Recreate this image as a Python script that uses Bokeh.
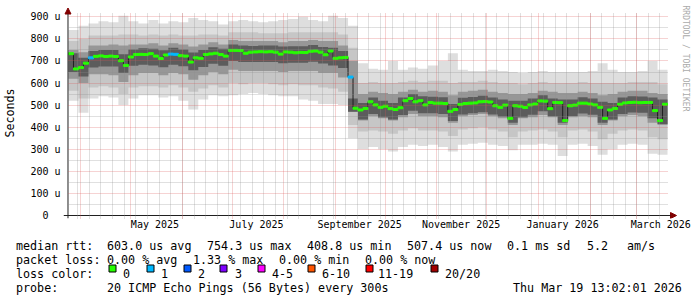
import numpy as np
import pandas as pd
from bokeh.plotting import figure
from bokeh.layouts import column
from bokeh.models import Range1d, FixedTicker, Arrow, NormalHead, Title, ColumnDataSource
from bokeh.core.properties import value
from bokeh.embed import file_html
from bokeh.resources import INLINE

# ---------------- data ----------------
END_TIME = "2026-03-19 13:02:01"
SPAN_DAYS = 360
MEDIAN_STEP_DAYS = 3
SMOKE_STEP_DAYS = 6

# median RTT (microseconds), one value per 3-day step
median_us = [733, 664, 670, 690, 714, 721, 723, 720, 722, 720,
             701, 680, 718, 729, 730, 729, 733, 722, 711, 727,
             731, 730, 724, 722, 695, 714, 712, 729, 732, 735,
             729, 722, 748, 748, 747, 735, 740, 741, 742, 741,
             742, 740, 731, 741, 740, 737, 739, 738, 744, 745,
             740, 728, 745, 712, 714, 716, 627, 486, 478, 485,
             515, 501, 490, 495, 484, 480, 488, 520, 530, 515,
             520, 501, 512, 509, 509, 507, 472, 480, 503, 507,
             509, 510, 515, 516, 514, 497, 490, 500, 440, 497,
             495, 489, 501, 505, 519, 518, 484, 512, 511, 430,
             497, 500, 509, 509, 505, 501, 490, 440, 478, 485,
             504, 510, 512, 513, 511, 512, 512, 475, 430, 504]

# lost pings (of 20) per 3-day step
loss_pings = [0, 0, 0, 0, 1, 0, 0, 0, 0, 0,
              0, 0, 0, 0, 0, 0, 0, 0, 0, 0,
              1, 1, 0, 0, 0, 0, 0, 0, 0, 0,
              0, 0, 0, 0, 0, 0, 0, 0, 0, 0,
              0, 0, 0, 0, 0, 0, 0, 0, 0, 0,
              0, 0, 0, 0, 0, 0, 1, 0, 0, 0,
              0, 0, 0, 0, 0, 0, 0, 0, 0, 0,
              0, 0, 0, 0, 0, 0, 0, 0, 0, 0,
              0, 0, 0, 0, 0, 0, 0, 0, 0, 0,
              0, 0, 0, 0, 0, 0, 0, 0, 0, 0,
              0, 0, 0, 0, 0, 0, 0, 0, 0, 0,
              0, 0, 0, 0, 0, 0, 0, 0, 0, 0]

# smoke (spread of the 20 pings, microseconds), one value per 6-day step
smoke_max = [840, 860, 870, 880, 875, 905, 880, 870, 885, 870,
             880, 875, 895, 885, 880, 865, 880, 885, 880, 875,
             880, 885, 890, 900, 885, 880, 905, 895, 860, 690,
             665, 660, 700, 660, 670, 665, 680, 700, 735, 660,
             655, 655, 660, 655, 650, 645, 650, 655, 650, 650,
             650, 650, 655, 690, 660, 650, 650, 655, 700, 660]
smoke_hi_mid = [790, 800, 815, 815, 815, 820, 820, 815, 820, 815,
                820, 815, 815, 820, 820, 815, 830, 830, 830, 825,
                825, 825, 830, 830, 830, 830, 830, 820, 760, 600,
                605, 600, 600, 605, 610, 605, 610, 610, 600, 605,
                605, 610, 605, 600, 600, 595, 600, 605, 600, 600,
                600, 605, 600, 600, 600, 600, 605, 605, 605, 595]
smoke_hi_in = [750, 740, 770, 770, 775, 770, 775, 775, 780, 770,
               780, 775, 765, 775, 785, 775, 795, 790, 790, 790,
               790, 785, 790, 790, 795, 790, 790, 770, 700, 550,
               560, 555, 550, 560, 570, 560, 565, 560, 545, 560,
               565, 570, 560, 555, 550, 550, 555, 565, 560, 555,
               555, 560, 555, 545, 550, 560, 565, 565, 555, 550]
smoke_hi_core = [735, 715, 745, 750, 750, 730, 752, 758, 755, 748,
                 760, 752, 738, 750, 762, 755, 775, 770, 768, 770,
                 770, 765, 767, 767, 772, 763, 760, 745, 530, 510,
                 535, 520, 510, 535, 550, 540, 538, 536, 505, 533,
                 537, 542, 535, 525, 520, 520, 530, 545, 530, 525,
                 526, 536, 530, 515, 510, 535, 540, 539, 535, 525]
smoke_lo_core = [650, 630, 670, 675, 675, 645, 678, 683, 680, 672,
                 683, 676, 658, 673, 687, 678, 700, 695, 695, 695,
                 695, 690, 692, 692, 697, 688, 680, 668, 470, 435,
                 460, 445, 435, 455, 475, 463, 463, 460, 428, 458,
                 463, 468, 458, 448, 420, 445, 456, 472, 450, 420,
                 451, 462, 456, 420, 435, 460, 466, 465, 440, 415]
smoke_lo_in = [620, 600, 640, 640, 635, 605, 635, 645, 645, 635,
               645, 640, 615, 635, 650, 640, 660, 655, 655, 655,
               655, 650, 655, 655, 655, 645, 645, 625, 470, 430,
               450, 440, 430, 445, 460, 450, 450, 445, 420, 450,
               455, 460, 450, 440, 410, 440, 445, 455, 445, 410,
               445, 450, 445, 410, 430, 450, 455, 450, 420, 410]
smoke_lo_mid = [565, 530, 580, 585, 580, 550, 580, 585, 585, 580,
                590, 580, 560, 575, 590, 580, 600, 595, 600, 600,
                595, 590, 595, 590, 590, 580, 575, 560, 410, 380,
                385, 380, 370, 385, 395, 385, 385, 380, 360, 390,
                395, 400, 390, 380, 355, 380, 385, 390, 380, 355,
                385, 390, 380, 345, 370, 385, 390, 385, 355, 345]
smoke_min = [520, 465, 530, 540, 535, 500, 530, 545, 545, 535,
             540, 520, 480, 525, 545, 540, 545, 550, 555, 550,
             545, 540, 540, 525, 520, 505, 505, 500, 350, 300,
             310, 300, 290, 310, 320, 315, 320, 310, 290, 320,
             325, 330, 320, 315, 295, 320, 320, 325, 320, 270,
             320, 325, 315, 275, 300, 320, 325, 320, 280, 275]

y_ticks = [0, 100, 200, 300, 400, 500, 600, 700, 800, 900]
y_minor_ticks = [50, 150, 250, 350, 450, 550, 650, 750, 850]
y_tick_labels = ["0\u00a0\u00a0", "100 u", "200 u", "300 u", "400 u", "500 u",
                 "600 u", "700 u", "800 u", "900 u"]
x_label_months = ["2025-05-01", "2025-07-01", "2025-09-01", "2025-11-01", "2026-01-01", "2026-03-01"]
x_label_texts = ["May 2025", "July 2025", "September 2025", "November 2025", "January 2026", "March 2026"]

legend_rtt = ["603.0 us avg", "754.3 us max", "408.8 us min", "507.4 us now", "0.1 ms sd", "5.2", "am/s"]
legend_loss = ["0.00 % avg", "1.33 % max", "0.00 % min", "0.00 % now"]
loss_color_labels = ["0", "1", "2", "3", "4-5", "6-10", "11-19", "20/20"]
loss_color_values = ["#26ff00", "#00b8ff", "#0059ff", "#7e00ff", "#ff00ff", "#ff5500", "#ff0000", "#a00000"]
loss_color_upper = [0, 1, 2, 3, 5, 10, 19, 20]
probe_text = "20 ICMP Echo Pings (56 Bytes) every 300s"
stamp_text = "Thu Mar 19 13:02:01 2026"
watermark = "RRDTOOL / TOBI OETIKER"

# ---------------- layout constants ----------------
W = 697
H_TOP, H_LEG = 235, 62
PL, PR, PT, PB = 67, 667, 13, 215        # plot canvas (data area)
FL, FR, FT, FB = 62, 677, 7, 218         # bokeh frame (includes axis arrows)
Y_TOP = 915.0
FONT = "DejaVu Sans Mono"
DAY = 86400000.0

end = pd.Timestamp(END_TIME)
start = end - pd.Timedelta(days=SPAN_DAYS)
def ms(ts):
    return float(pd.Timestamp(ts).value // 10**6)
t0, t1 = ms(start), ms(end)
MS_PER_PX = (t1 - t0) / (PR - PL)
U_PER_PX = Y_TOP / (PB - PT)

def xd(cx):
    return t0 + (cx - PL) * MS_PER_PX

def yd(cy):
    return (PB - cy) * U_PER_PX

p = figure(width=W, height=H_TOP, x_axis_type="datetime", output_backend="svg",
           toolbar_location=None, title=None,
           x_range=Range1d(xd(FL), xd(FR)), y_range=Range1d(yd(FB), yd(FT)),
           min_border_left=FL, min_border_right=W - FR,
           min_border_top=FT, min_border_bottom=H_TOP - FB)
p.outline_line_color = None
p.background_fill_color = "white"
p.border_fill_color = "white"

# smoke
smoke_edges = t0 + np.arange(len(smoke_max) + 1) * SMOKE_STEP_DAYS * DAY
def ext(a):
    return list(a) + [a[-1]]
layers = [(smoke_min, smoke_max, "#dedede"),
          (smoke_lo_mid, smoke_hi_mid, "#c6c6c6"),
          (smoke_lo_in, smoke_hi_in, "#979797"),
          (smoke_lo_core, smoke_hi_core, "#5c5c5c")]
for lo, hi, col in layers:
    p.varea_step(x=smoke_edges, y1=ext(lo), y2=ext(hi), step_mode="after", fill_color=col)

# median
med_edges = t0 + np.arange(len(median_us) + 1) * MEDIAN_STEP_DAYS * DAY
p.step(x=med_edges, y=ext(median_us), mode="after", line_color="#202020", line_width=1)

def loss_color(n):
    for up, c in zip(loss_color_upper, loss_color_values):
        if n <= up:
            return c
    return loss_color_values[-1]

HALF = 1.0 * U_PER_PX
med = np.array(median_us, dtype=float)
src = ColumnDataSource(dict(left=med_edges[:-1], right=med_edges[1:],
                            bottom=med - HALF, top=med + HALF,
                            color=[loss_color(n) for n in loss_pings]))
p.quad(left="left", right="right", bottom="bottom", top="top", source=src,
       fill_color="color", line_color="color", line_width=1)

# axes
xa = p.xaxis[0]
label_ticks = [ms(pd.Timestamp(m) + pd.Timedelta(days=14, hours=12)) for m in x_label_months]
xa.ticker = FixedTicker(ticks=label_ticks)
xa.major_label_overrides = {t: s for t, s in zip(label_ticks, x_label_texts)}
ya = p.yaxis[0]
ya.ticker = FixedTicker(ticks=y_ticks, minor_ticks=y_minor_ticks)
ya.major_label_overrides = {t: s for t, s in zip(y_ticks, y_tick_labels)}
for ax in (xa, ya):
    ax.axis_line_color = None
    ax.major_tick_line_color = None
    ax.minor_tick_line_color = None
    ax.major_tick_out = 0
    ax.minor_tick_out = 0
    ax.major_tick_in = 0
    ax.minor_tick_in = 0
    ax.major_label_text_font = FONT
    ax.major_label_text_font_size = "10px"
    ax.major_label_text_color = "black"
xa.major_label_standoff = 0
ya.major_label_standoff = 3
ya.axis_label = "Seconds"
ya.axis_label_text_font = FONT
ya.axis_label_text_font_size = "11.7px"
ya.axis_label_text_font_style = "normal"
ya.axis_label_text_color = "black"
ya.axis_label_standoff = 10

# grids
months = pd.date_range("2025-04-01", "2026-03-01", freq="MS")
weeks = pd.date_range(start.normalize(), end, freq="W-SUN")
p.xgrid.ticker = FixedTicker(ticks=[ms(m) for m in months], minor_ticks=[ms(w) for w in weeks])
p.ygrid.ticker = FixedTicker(ticks=y_ticks[1:], minor_ticks=y_minor_ticks)
for g in (p.xgrid[0], p.ygrid[0]):
    g.grid_line_color = "#de4f4f"
    g.grid_line_alpha = 0.5
    g.grid_line_dash = "1 1"
    g.minor_grid_line_color = "#8f8f8f"
    g.minor_grid_line_alpha = 0.55
    g.minor_grid_line_dash = "1 1"
    g.level = "overlay"
try:
    p.xgrid[0].cross_bounds = (yd(218), Y_TOP)
    p.ygrid[0].cross_bounds = (t0, t1)
except Exception:
    pass

# axis lines with arrows
ARROW = "#800000"
p.add_layout(Arrow(end=NormalHead(size=6, fill_color=ARROW, line_color=ARROW),
                   x_start=xd(62), y_start=0, x_end=xd(676), y_end=0,
                   line_color="#202020", line_width=1))
p.add_layout(Arrow(end=NormalHead(size=6, fill_color=ARROW, line_color=ARROW),
                   x_start=xd(66.5), y_start=yd(218), x_end=xd(66.5), y_end=yd(7.5),
                   line_color="#202020", line_width=1))

# watermark (right side title reads top to bottom)
p.add_layout(Title(text=watermark, align="left", offset=-2, standoff=6,
                   text_font=FONT, text_font_size="8px", text_color="#aaaaaa",
                   text_font_style="normal"), "right")

# ---------------- legend (text below the graph) ----------------
lf = figure(width=W, height=H_LEG, output_backend="svg", toolbar_location=None, title=None,
            x_range=Range1d(0, W), y_range=Range1d(H_TOP + H_LEG, H_TOP),
            x_axis_location=None, y_axis_location=None, min_border=0)
lf.outline_line_color = None
lf.grid.visible = False
lf.background_fill_color = "white"
lf.border_fill_color = "white"
for fig in (p, lf):
    try:
        fig.frame_align = False
    except Exception:
        pass

ROW = [245, 259, 273.3, 287.5]
tx, ty, tt = [], [], []
def txt(cx, cy, s):
    tx.append(cx - 0.5); ty.append(cy); tt.append(s)

txt(16, ROW[0], "median rtt:")
for cx, s in zip([107, 207, 307, 407, 507, 587, 627], legend_rtt):
    txt(cx, ROW[0], s)
txt(16, ROW[1], "packet loss:")
for cx, s in zip([107, 193, 279, 365], legend_loss):
    txt(cx, ROW[1], s)
txt(16, ROW[2], "loss color:")
box_x = [108, 146, 183, 219, 257, 307, 365, 430]
lab_x = [123, 161, 198, 235, 272, 322, 378, 445]
for lx, s in zip(lab_x, loss_color_labels):
    txt(lx, ROW[2], s)
txt(16, ROW[3], "probe:")
txt(107, ROW[3], probe_text)
txt(513, ROW[3], stamp_text)

lf.text(x=tx, y=ty, text=tt, text_font=value(FONT), text_font_size=value("11.7px"),
        text_color="black", text_baseline="alphabetic", text_align="left")
lf.quad(left=[b + 0.5 for b in box_x], right=[b + 7.5 for b in box_x],
        top=[264.5] * len(box_x), bottom=[271.5] * len(box_x),
        fill_color=loss_color_values, line_color="black", line_width=1)

layout = column(p, lf, spacing=0)
open("out.html", "w").write(file_html(layout, INLINE))
